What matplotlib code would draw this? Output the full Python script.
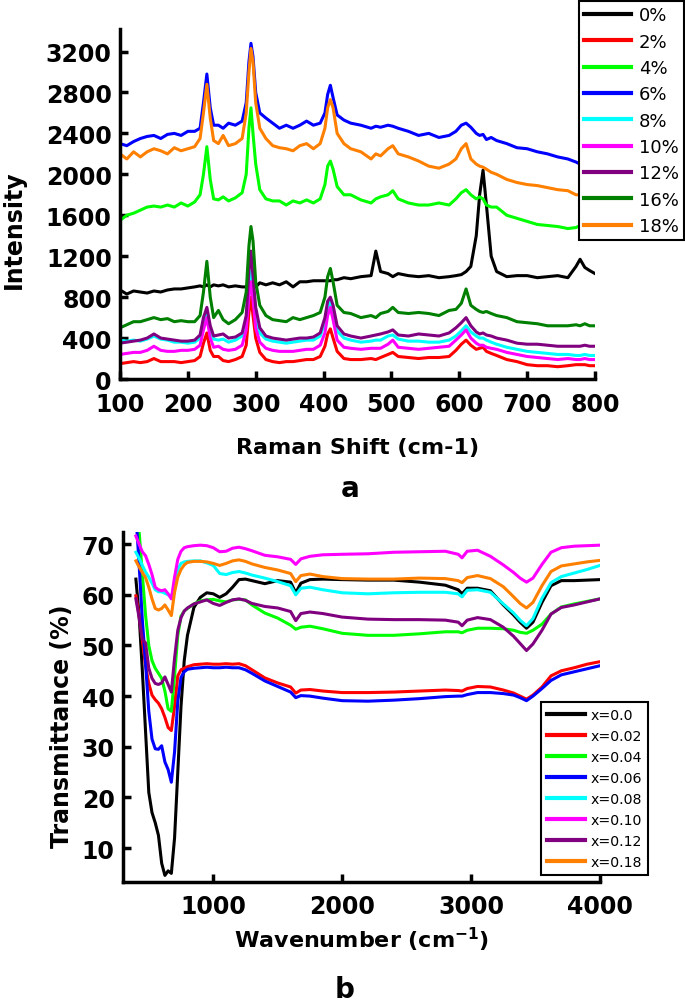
import matplotlib.pyplot as plt
import numpy as np

# ---- panel a : Raman spectra ----
raman_x = [100, 110, 120, 130, 140, 150, 160, 170, 180, 190, 200, 210, 218, 223, 228, 233, 238, 245, 252,
           260, 270, 280, 286, 290, 293, 296, 300, 306, 315, 325, 335, 345, 355, 365, 375, 385, 395, 402,
           406, 410, 414, 420, 430, 440, 455, 470, 477, 484, 495, 502, 510, 525, 540, 555, 570, 585, 595,
           603, 610, 617, 625, 630, 635, 640, 647, 655, 670, 685, 700, 715, 730, 745, 760, 772, 778, 785,
           792, 800]

raman_0 = [870, 830, 860, 850, 840, 860, 850, 870, 880, 880, 890, 900, 910, 900, 920, 900, 920, 910, 920,
           900, 910, 900, 900, 920, 900, 920, 900, 940, 920, 940, 920, 950, 900, 950, 950, 960, 960, 960,
           960, 960, 970, 970, 990, 980, 1000, 1010, 1250, 1050, 1030, 1000, 1030, 1010, 1000, 1010, 990, 1000, 1010,
           1020, 1050, 1100, 1400, 1800, 2040, 1700, 1200, 1050, 1000, 1010, 1010, 990, 1000, 1010, 990, 1100, 1170, 1090,
           1060, 1030]
raman_2 = [150, 160, 170, 160, 170, 200, 170, 170, 170, 160, 170, 180, 220, 350, 450, 280, 220, 220, 180,
           170, 190, 220, 330, 650, 800, 620, 400, 260, 190, 170, 160, 170, 170, 180, 190, 190, 220, 320,
           440, 490, 400, 270, 200, 190, 190, 200, 190, 210, 240, 260, 220, 210, 200, 210, 210, 220, 280,
           340, 380, 330, 290, 300, 310, 270, 250, 230, 190, 170, 140, 130, 130, 120, 130, 140, 140, 140,
           130, 130]
raman_4 = [1550, 1600, 1620, 1650, 1680, 1690, 1680, 1700, 1680, 1720, 1690, 1730, 1800, 2000, 2270, 1950, 1760, 1750, 1780,
           1740, 1770, 1820, 2000, 2450, 2650, 2400, 2100, 1850, 1760, 1740, 1740, 1700, 1740, 1720, 1750, 1720, 1760, 1900,
           2080, 2130, 2050, 1880, 1800, 1800, 1750, 1720, 1760, 1780, 1800, 1840, 1760, 1720, 1700, 1700, 1720, 1700, 1760,
           1820, 1850, 1800, 1760, 1780, 1760, 1700, 1680, 1680, 1600, 1570, 1540, 1510, 1500, 1490, 1470, 1480, 1500, 1490,
           1480, 1480]
raman_6 = [2300, 2280, 2320, 2350, 2370, 2380, 2350, 2390, 2400, 2380, 2420, 2420, 2450, 2700, 2980, 2650, 2480, 2480, 2450,
           2500, 2480, 2520, 2700, 3100, 3280, 3150, 2800, 2600, 2550, 2500, 2450, 2480, 2450, 2480, 2520, 2480, 2500, 2600,
           2780, 2870, 2750, 2580, 2530, 2500, 2480, 2450, 2470, 2460, 2480, 2470, 2450, 2420, 2380, 2400, 2360, 2380, 2420,
           2480, 2500, 2460, 2400, 2380, 2390, 2340, 2360, 2330, 2300, 2260, 2250, 2220, 2200, 2170, 2150, 2120, 2100, 2110,
           2090, 2080]
raman_8 = [380, 370, 380, 370, 390, 420, 390, 380, 360, 360, 350, 360, 400, 550, 650, 480, 390, 380, 390,
           360, 380, 420, 560, 900, 1050, 850, 600, 450, 390, 370, 360, 350, 360, 370, 380, 380, 420, 550,
           700, 760, 650, 470, 400, 380, 360, 370, 380, 380, 420, 430, 390, 370, 370, 360, 360, 380, 420,
           470, 520, 460, 420, 400, 400, 380, 360, 340, 310, 290, 270, 260, 250, 240, 240, 230, 230, 240,
           230, 230]
raman_10 = [240, 250, 260, 260, 280, 320, 280, 270, 270, 280, 280, 290, 330, 480, 600, 400, 310, 320, 290,
            280, 290, 330, 480, 800, 950, 780, 500, 360, 300, 280, 270, 270, 270, 280, 290, 290, 330, 450,
            620, 700, 580, 380, 310, 300, 290, 300, 300, 300, 340, 380, 310, 300, 290, 300, 310, 320, 380,
            430, 480, 400, 350, 330, 330, 310, 300, 290, 260, 240, 220, 210, 200, 190, 200, 190, 190, 200,
            190, 190]
raman_12 = [350, 360, 370, 380, 400, 440, 400, 390, 380, 370, 370, 380, 430, 600, 700, 520, 420, 430, 440,
            400, 410, 450, 620, 1050, 1250, 1000, 700, 500, 420, 400, 390, 380, 390, 400, 400, 410, 450, 600,
            760, 800, 720, 520, 440, 420, 400, 420, 430, 440, 460, 480, 430, 420, 440, 430, 420, 450, 500,
            550, 600, 520, 460, 440, 450, 430, 420, 400, 380, 350, 340, 340, 330, 320, 320, 320, 320, 330,
            320, 320]
raman_16 = [500, 530, 560, 560, 580, 600, 580, 590, 560, 570, 560, 560, 620, 850, 1150, 800, 600, 670, 580,
            540, 580, 650, 850, 1300, 1490, 1350, 950, 720, 620, 580, 570, 560, 600, 580, 600, 620, 650, 800,
            1000, 1080, 950, 720, 650, 640, 600, 620, 600, 640, 660, 700, 650, 640, 650, 640, 620, 670, 680,
            740, 880, 720, 680, 660, 650, 660, 640, 620, 600, 560, 550, 540, 520, 520, 520, 530, 520, 540,
            520, 520]
raman_18 = [2200, 2150, 2220, 2170, 2220, 2250, 2230, 2200, 2260, 2230, 2250, 2270, 2350, 2600, 2880, 2550, 2330, 2300, 2380,
            2280, 2300, 2350, 2600, 3000, 3230, 3100, 2700, 2450, 2350, 2280, 2260, 2250, 2230, 2280, 2300, 2250, 2300, 2450,
            2650, 2730, 2650, 2400, 2300, 2250, 2220, 2150, 2200, 2180, 2250, 2280, 2200, 2170, 2130, 2080, 2060, 2100, 2150,
            2250, 2300, 2150, 2100, 2080, 2070, 2050, 2020, 2000, 1950, 1920, 1900, 1890, 1870, 1850, 1840, 1800, 1800, 1790,
            1790, 1780]

raman_series = [raman_0, raman_2, raman_4, raman_6, raman_8, raman_10, raman_12, raman_16, raman_18]
raman_labels = ['0%', '2%', '4%', '6%', '8%', '10%', '12%', '16%', '18%']
raman_colors = ['black', '#ff0000', '#00ff00', '#0000ff', '#00ffff', '#ff00ff', '#800080', '#008000', '#ff8000']

# ---- panel b : FTIR spectra ----
ftir_x = [400, 425, 450, 475, 500, 525, 550, 575, 600, 625, 650, 675, 700, 725, 750, 775, 800, 850, 900, 950,
          1000, 1050, 1100, 1150, 1200, 1250, 1300, 1400, 1500, 1600, 1640, 1680, 1750, 1850, 2000, 2200, 2400,
          2600, 2800, 2900, 2930, 2970, 3050, 3150, 3250, 3330, 3380, 3430, 3480, 3550, 3620, 3700, 3800, 3900, 4000]

ftir_000 = [63.1, 56, 45, 33, 21, 17, 15, 12.5, 7, 4.6, 5.5, 5.0, 12, 25, 38, 47, 52, 57.5, 59.5, 60.4,
            60.2, 59.5, 60.2, 61.5, 63.0, 63.1, 62.8, 62.2, 62.8, 62.5, 60.4, 62.3, 63.0, 63.1, 63.0, 62.9, 62.9,
            62.5, 61.9, 61.0, 60.2, 61.3, 61.3, 60.8, 58.0, 56.0, 54.6, 53.4, 54.6, 58.5, 61.8, 62.8, 62.8, 62.9, 63.0]
ftir_002 = [59.8, 56, 51, 46, 42.5, 40.2, 39.3, 38.6, 37.5, 35.8, 33.8, 33.2, 38, 44.0, 45.2, 45.5, 45.8, 46.2, 46.3, 46.4,
            46.3, 46.3, 46.4, 46.3, 46.4, 46.0, 45.2, 43.6, 42.6, 41.8, 40.6, 41.2, 41.3, 41.0, 40.7, 40.7, 40.8,
            41.0, 41.2, 41.1, 41.0, 41.5, 41.9, 41.8, 41.2, 40.6, 40.0, 39.4, 40.2, 41.8, 44.0, 45.0, 45.6, 46.3, 46.8]
ftir_004 = [76, 72.6, 64, 56, 50, 47, 45.5, 44.5, 43.5, 41, 37.5, 37.0, 44, 52, 55.8, 56.8, 57.3, 58.2, 58.8, 59.0,
            59.1, 58.8, 58.6, 59.0, 59.1, 59.0, 58.0, 56.4, 55.4, 54.0, 53.2, 53.6, 53.8, 53.3, 52.4, 52.0, 52.0,
            52.3, 52.7, 52.7, 52.5, 53.0, 53.4, 53.4, 53.3, 53.0, 52.6, 52.4, 53.0, 54.2, 56.2, 57.6, 58.2, 58.7, 59.2]
ftir_006 = [76, 66, 55, 46.5, 37, 31.5, 29.6, 29.5, 30.2, 27, 25.5, 23, 29, 39, 43.7, 44.8, 45.3, 45.5, 45.6, 45.7,
            45.6, 45.6, 45.7, 45.6, 45.6, 45.2, 44.5, 43.0, 41.9, 40.8, 39.7, 40.1, 40.0, 39.6, 39.1, 39.0, 39.2,
            39.5, 39.9, 40.0, 40.0, 40.3, 40.7, 40.7, 40.5, 40.2, 39.7, 39.1, 40.0, 41.5, 43.1, 44.2, 44.8, 45.4, 46.0]
ftir_008 = [68.4, 67.2, 65.8, 64.5, 63.5, 62.3, 61.0, 60.6, 60.6, 60.3, 60.0, 59.5, 62, 65, 66.2, 66.5, 66.6, 66.7, 66.7, 66.3,
            65.8, 64.2, 64.0, 64.4, 64.6, 64.3, 63.9, 63.3, 62.6, 61.8, 60.0, 61.3, 61.5, 61.0, 60.4, 60.2, 60.4,
            60.5, 60.5, 60.2, 59.6, 60.9, 61.0, 60.5, 58.2, 56.4, 55.0, 53.9, 55.3, 59.3, 62.4, 63.6, 64.3, 65.0, 65.8]
ftir_010 = [71.6, 70.0, 68.5, 67.7, 66.0, 64.0, 61.5, 61.0, 60.8, 61.0, 60.2, 59.2, 63.5, 67, 68.6, 69.3, 69.5, 69.7, 69.8, 69.7,
            69.3, 68.5, 68.6, 69.2, 69.4, 69.1, 68.7, 67.8, 67.5, 67.0, 66.0, 67.1, 67.6, 67.9, 68.0, 68.1, 68.4,
            68.5, 68.6, 68.0, 67.3, 68.6, 68.8, 67.6, 65.9, 64.4, 63.3, 62.5, 63.3, 66.0, 68.4, 69.3, 69.6, 69.7, 69.8]
ftir_012 = [59.2, 55.5, 51.2, 50.5, 45.5, 43.5, 42.5, 42.3, 42.6, 43.8, 42.3, 40.8, 47.5, 53, 55.5, 56.8, 57.4, 58.2, 58.6, 59.0,
            58.3, 57.9, 58.5, 59.0, 59.2, 58.9, 58.3, 57.7, 57.4, 56.7, 54.9, 56.3, 56.6, 56.3, 55.6, 55.2, 55.1,
            55.1, 55.0, 54.6, 53.9, 55.0, 55.5, 55.1, 53.6, 51.8, 50.4, 49.0, 50.3, 53.0, 56.2, 57.5, 58.0, 58.6, 59.2]
ftir_018 = [66.7, 65.5, 64.4, 63.4, 61.5, 59.2, 57.3, 57.0, 57.3, 58.0, 57.0, 55.9, 60.5, 63.5, 65.0, 65.9, 66.4, 66.6, 66.6, 66.5,
            66.2, 65.8, 66.2, 66.7, 66.9, 66.6, 66.1, 65.4, 64.9, 64.2, 62.6, 63.8, 64.1, 63.6, 63.2, 63.1, 63.1,
            63.3, 63.2, 62.8, 62.4, 63.4, 63.8, 63.2, 61.6, 59.6, 58.3, 57.4, 58.5, 61.8, 64.6, 65.7, 66.1, 66.5, 66.8]

ftir_series = [ftir_000, ftir_002, ftir_004, ftir_006, ftir_008, ftir_010, ftir_012, ftir_018]
ftir_labels = ['x=0.0', 'x=0.02', 'x=0.04', 'x=0.06', 'x=0.08', 'x=0.10', 'x=0.12', 'x=0.18']
ftir_colors = ['black', '#ff0000', '#00ff00', '#0000ff', '#00ffff', '#ff00ff', '#800080', '#ff8000']

plt.rcParams['font.family'] = 'DejaVu Sans'

fig = plt.figure(figsize=(6.85, 10.04), dpi=100)
W, H = 685.0, 1004.0


def style_axes(ax):
    for s in ['top', 'right']:
        ax.spines[s].set_visible(False)
    for s in ['left', 'bottom']:
        ax.spines[s].set_linewidth(2.5)
    ax.tick_params(direction='in', length=6, width=2.5, labelsize=17)
    ax.tick_params(axis='x', pad=9)
    ax.tick_params(axis='y', pad=6)
    for lab in ax.get_xticklabels() + ax.get_yticklabels():
        lab.set_fontweight('bold')


# panel a
ax1 = fig.add_axes([120 / W, 1 - 380 / H, 475 / W, 350 / H])
lines1 = []
for y, c, lab in zip(raman_series, raman_colors, raman_labels):
    ln, = ax1.plot(raman_x, y, color=c, lw=2.2, label=lab)
    lines1.append(ln)
ax1.set_xlim(100, 800)
ax1.set_ylim(0, 3420)
ax1.set_xticks(np.arange(100, 801, 100))
ax1.set_yticks(np.arange(0, 3201, 400))
style_axes(ax1)

leg1 = fig.legend(handles=lines1, loc='upper right', bbox_to_anchor=(684 / W, 1 - 2 / H),
                  fontsize=13, handlelength=2.6, handletextpad=0.4, labelspacing=0.46,
                  borderpad=0.3, borderaxespad=0, fancybox=False, framealpha=1)
leg1.get_frame().set_edgecolor('black')
leg1.get_frame().set_linewidth(1.5)
for ln in leg1.get_lines():
    ln.set_linewidth(3)

fig.text(14 / W, 1 - 230 / H, 'Intensity', rotation=90, ha='center', va='center',
         fontsize=17, fontweight='bold')
fig.text(358 / W, 1 - 448 / H, 'Raman Shift (cm-1)', ha='center', va='center',
         fontsize=16, fontweight='bold')
fig.text(350 / W, 1 - 489 / H, 'a', ha='center', va='center', fontsize=20, fontweight='bold')

# panel b
ax2 = fig.add_axes([123 / W, 1 - 883 / H, 477 / W, 350 / H])
lines2 = []
for y, c, lab in zip(ftir_series, ftir_colors, ftir_labels):
    ln, = ax2.plot(ftir_x, y, color=c, lw=2.2, label=lab)
    lines2.append(ln)
ax2.set_xlim(300, 4000)
ax2.set_ylim(3.3, 72.4)
ax2.set_xticks([1000, 2000, 3000, 4000])
ax2.set_yticks(np.arange(10, 71, 10))
style_axes(ax2)

leg2 = ax2.legend(handles=lines2, loc='upper left', bbox_to_anchor=(541 / W, 1 - 703 / H),
                  bbox_transform=fig.transFigure, fontsize=10.2, handlelength=2.7,
                  handletextpad=0.4, labelspacing=0.5, borderpad=0.4, borderaxespad=0,
                  fancybox=False, framealpha=1)
leg2.get_frame().set_edgecolor('black')
leg2.get_frame().set_linewidth(1.5)
for ln in leg2.get_lines():
    ln.set_linewidth(3)

fig.text(62 / W, 1 - 726 / H, 'Transmittance (%)', rotation=90, ha='center', va='center',
         fontsize=17, fontweight='bold')
fig.text(362 / W, 1 - 940 / H, 'Wavenumber (cm$^{\\mathbf{-1}}$)', ha='center', va='center',
         fontsize=16, fontweight='bold')
fig.text(345 / W, 1 - 990 / H, 'b', ha='center', va='center', fontsize=20, fontweight='bold')

fig.savefig('out.png', dpi=100)
